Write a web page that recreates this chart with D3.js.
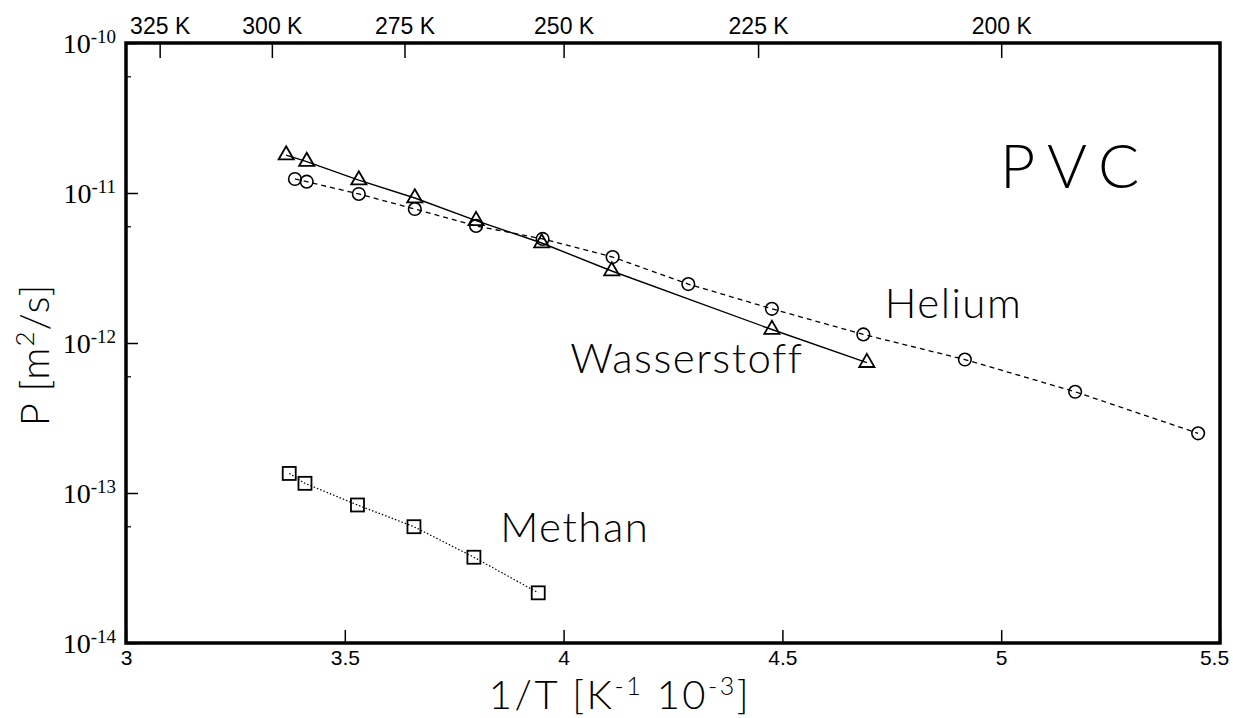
<!DOCTYPE html>
<html>
<head>
<meta charset="utf-8">
<script src="https://cdn.jsdelivr.net/npm/d3@7"></script>
<style>
  html, body { margin: 0; padding: 0; background: #fff; }
  svg { display: block; }
  .light { font-family: Lato, Roboto, "Open Sans", sans-serif; font-weight: 300; }
</style>
</head>
<body>
<svg id="chart" width="1233" height="718"></svg>
<script>
// Permeability of PVC versus reciprocal temperature (1/T in 10^-3 K^-1)
const heliumInvT = [3.386, 3.413, 3.532, 3.660, 3.800, 3.952, 4.112, 4.285, 4.476, 4.685, 4.917, 5.169, 5.450];
const heliumP    = [1.24e-11, 1.19e-11, 9.85e-12, 7.82e-12, 6.03e-12, 4.94e-12, 3.74e-12, 2.47e-12, 1.69e-12, 1.14e-12, 7.76e-13, 4.73e-13, 2.50e-13];

const hydrogenInvT = [3.366, 3.413, 3.532, 3.660, 3.800, 3.950, 4.110, 4.476, 4.693];
const hydrogenP    = [1.79e-11, 1.62e-11, 1.22e-11, 9.26e-12, 6.54e-12, 4.64e-12, 3.02e-12, 1.23e-12, 7.40e-13];

const methaneInvT = [3.373, 3.409, 3.529, 3.658, 3.795, 3.942];
const methaneP    = [1.35e-13, 1.16e-13, 8.32e-14, 5.96e-14, 3.73e-14, 2.16e-14];

// Axis ticks
const xTicks = [3, 3.5, 4, 4.5, 5, 5.5];
const tempTicks = [325, 300, 275, 250, 225, 200];       // Kelvin, top axis
const yTicks = [1e-10, 1e-11, 1e-12, 1e-13, 1e-14];
const yMinorTicks = [6e-11, 6e-12, 6e-13, 6e-14];

// Curve labels: [text, 1/T, P at baseline]
const curveLabels = [
  ["Helium", 4.734, 1.47e-12],
  ["Wasserstoff", 4.015, 6.3e-13],
  ["Methan", 3.855, 4.71e-14]
];

const plot = { left: 126, right: 1220, top: 43, bottom: 643 };

const svg = d3.select("#chart");

const x = d3.scaleLinear().domain([3, 5.5]).range([plot.left, plot.right]);
const y = d3.scaleLog().domain([1e-14, 1e-10]).range([plot.bottom, plot.top]);

// Bottom axis (inward ticks)
const gx = svg.append("g")
  .attr("transform", `translate(0,${plot.bottom})`)
  .call(d3.axisBottom(x).tickValues(xTicks).tickSize(-13).tickPadding(7)
        .tickFormat(d3.format("")));
gx.select(".domain").remove();
gx.selectAll("text").attr("font-family", "Liberation Sans Narrow, Liberation Sans, Arial, sans-serif")
  .attr("font-size", 21).attr("fill", "#000");
gx.selectAll(".tick:last-of-type text").attr("dx", -6);
gx.selectAll("line").attr("stroke", "#000").attr("stroke-width", 1.5);

// Top axis: temperature in K at 1000/T
const gt = svg.append("g")
  .attr("transform", `translate(0,${plot.top})`)
  .call(d3.axisTop(x).tickValues(tempTicks.map(t => 1000 / t)).tickSize(-15).tickPadding(9)
        .tickFormat(v => Math.round(1000 / v) + " K"));
gt.select(".domain").remove();
gt.selectAll("text").attr("font-family", "Liberation Sans Narrow, Liberation Sans, Arial, sans-serif")
  .attr("font-size", 23).attr("fill", "#000");
gt.selectAll("line").attr("stroke", "#000").attr("stroke-width", 1.5);

// Left axis: decades with superscript exponents
const gy = svg.append("g")
  .attr("transform", `translate(${plot.left},0)`)
  .call(d3.axisLeft(y).tickValues(yTicks).tickSize(-12).tickPadding(10).tickFormat(""));
gy.select(".domain").remove();
gy.selectAll("line").attr("stroke", "#000").attr("stroke-width", 1.5);
gy.selectAll(".tick text").each(function(d) {
  const t = d3.select(this)
    .attr("font-family", "Liberation Serif, DejaVu Serif, serif")
    .attr("font-size", 28).attr("fill", "#000").attr("dy", "0.33em");
  t.append("tspan").text("10");
  t.append("tspan").attr("font-size", 19).attr("dy", "-0.5em")
    .text(String(Math.round(Math.log10(d))));
});

const gym = svg.append("g")
  .attr("transform", `translate(${plot.left},0)`)
  .call(d3.axisLeft(y).tickValues(yMinorTicks).tickSize(-5).tickFormat(""));
gym.select(".domain").remove();
gym.selectAll("line").attr("stroke", "#000").attr("stroke-width", 1.2);

// Frame
svg.append("rect")
  .attr("x", plot.left).attr("y", plot.top)
  .attr("width", plot.right - plot.left).attr("height", plot.bottom - plot.top)
  .attr("fill", "none").attr("stroke", "#000").attr("stroke-width", 3.5);

// Series
const line = d3.line().x(d => x(d[0])).y(d => y(d[1]));
const zip = (a, b) => a.map((v, i) => [v, b[i]]);

const helium = zip(heliumInvT, heliumP);
const hydrogen = zip(hydrogenInvT, hydrogenP);
const methane = zip(methaneInvT, methaneP);

svg.append("path").datum(helium).attr("d", line)
  .attr("fill", "none").attr("stroke", "#000").attr("stroke-width", 1.3)
  .attr("stroke-dasharray", "5,4");
svg.append("path").datum(hydrogen).attr("d", line)
  .attr("fill", "none").attr("stroke", "#000").attr("stroke-width", 1.4);
svg.append("path").datum(methane).attr("d", line)
  .attr("fill", "none").attr("stroke", "#000").attr("stroke-width", 1.2)
  .attr("stroke-dasharray", "1.5,2");

// Markers
svg.append("g").selectAll("circle").data(helium).join("circle")
  .attr("cx", d => x(d[0])).attr("cy", d => y(d[1])).attr("r", 6.3)
  .attr("fill", "none").attr("stroke", "#000").attr("stroke-width", 1.6);

const tri = d3.symbol().type(d3.symbolTriangle).size(100);
svg.append("g").selectAll("path").data(hydrogen).join("path")
  .attr("transform", d => `translate(${x(d[0])},${y(d[1])})`)
  .attr("d", tri)
  .attr("fill", "none").attr("stroke", "#000").attr("stroke-width", 1.8);

svg.append("g").selectAll("rect").data(methane).join("rect")
  .attr("x", d => x(d[0]) - 6.5).attr("y", d => y(d[1]) - 6.5)
  .attr("width", 13).attr("height", 13)
  .attr("fill", "none").attr("stroke", "#000").attr("stroke-width", 1.8);

// Curve labels
svg.append("g").selectAll("text").data(curveLabels).join("text")
  .attr("class", "light")
  .attr("x", d => x(d[1])).attr("y", d => y(d[2]))
  .attr("font-size", 42).attr("letter-spacing", 1.5).attr("fill", "#000")
  .text(d => d[0]);

// Material label
svg.append("text").attr("class", "light")
  .attr("x", 1000).attr("y", 188)
  .attr("font-size", 61).attr("letter-spacing", 12).attr("fill", "#000")
  .text("PVC");

// Axis titles
const xt = svg.append("text").attr("class", "light")
  .attr("x", 620).attr("y", 709)
  .attr("text-anchor", "middle").attr("font-size", 40).attr("letter-spacing", 2.5).attr("fill", "#000");
xt.append("tspan").text("1/T [K");
xt.append("tspan").attr("font-size", 25).attr("dy", -14).text("-1");
xt.append("tspan").attr("dy", 14).text(" 10");
xt.append("tspan").attr("font-size", 25).attr("dy", -14).text("-3");
xt.append("tspan").attr("dy", 14).text("]");

const yt = svg.append("text").attr("class", "light")
  .attr("transform", "translate(49,355) rotate(-90)")
  .attr("text-anchor", "middle").attr("font-size", 40).attr("letter-spacing", 1).attr("fill", "#000");
yt.append("tspan").text("P [m");
yt.append("tspan").attr("font-size", 26).attr("dy", -15).text("2");
yt.append("tspan").attr("dy", 15).text("/s]");
</script>
</body>
</html>
